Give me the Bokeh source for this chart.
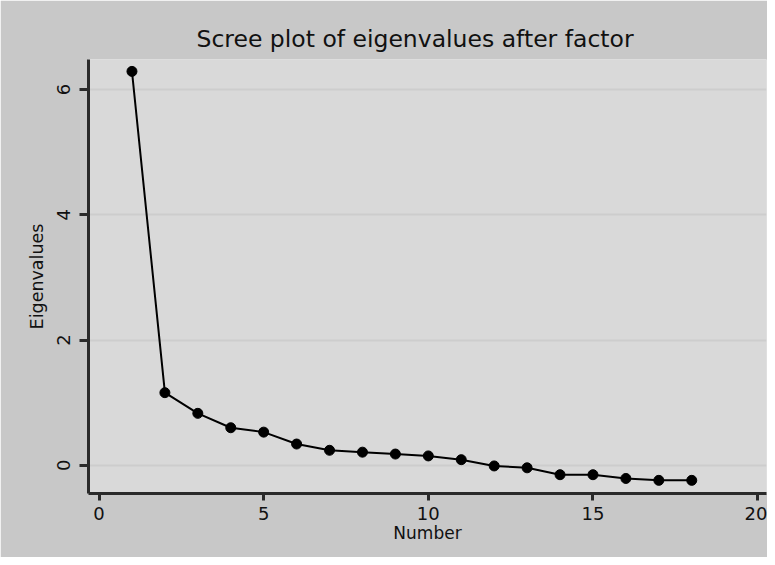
from bokeh.plotting import figure
from bokeh.models import FixedTicker, Range1d
from bokeh.embed import file_html
from bokeh.resources import INLINE

# Data
factor_number = list(range(1, 19))
eigenvalues = [6.29, 1.16, 0.83, 0.60, 0.53, 0.34, 0.24, 0.21, 0.18,
               0.15, 0.09, -0.01, -0.04, -0.15, -0.15, -0.21, -0.24, -0.24]
x_ticks = [0, 5, 10, 15, 20]
y_ticks = [0, 2, 4, 6]

FONT = "DejaVu Sans"

p = figure(width=767, height=557, output_backend="svg", toolbar_location=None,
           x_range=Range1d(-0.32, 20.27), y_range=Range1d(-0.45, 6.48),
           min_border_left=88, min_border_right=1, min_border_top=59,
           min_border_bottom=64,
           title="Scree plot of eigenvalues after factor")

p.border_fill_color = "#c8c8c8"
p.background_fill_color = "#d9d9d9"
p.outline_line_color = None

p.title.text_font = FONT
p.title.text_font_size = "23.5px"
p.title.text_font_style = "normal"
p.title.text_color = "#111111"
p.title.align = "left"
p.title.offset = 108
p.title.standoff = 14

p.line(factor_number, eigenvalues, line_color="black", line_width=2)
p.scatter(factor_number, eigenvalues, size=10, fill_color="black", line_color="black")

p.xgrid.grid_line_color = None
p.ygrid.grid_line_color = "#cdcdcd"
p.ygrid.grid_line_width = 2
p.ygrid.ticker = FixedTicker(ticks=y_ticks)

p.xaxis.ticker = FixedTicker(ticks=x_ticks)
p.yaxis.ticker = FixedTicker(ticks=y_ticks)

for ax in (p.xaxis[0], p.yaxis[0]):
    ax.axis_line_color = "#2a2a2a"
    ax.axis_line_width = 3
    ax.major_tick_line_color = "#2a2a2a"
    ax.major_tick_line_width = 3
    ax.major_tick_in = 0
    ax.minor_tick_line_color = None
    ax.major_label_text_font = FONT
    ax.major_label_text_font_size = "18px"
    ax.major_label_text_color = "#111111"
    ax.axis_label_text_font = FONT
    ax.axis_label_text_font_style = "normal"
    ax.axis_label_text_color = "#111111"

p.xaxis.axis_label = "Number"
p.xaxis.axis_label_text_font_size = "17px"
p.xaxis.major_tick_out = 7
p.xaxis.major_label_standoff = 6
p.xaxis.axis_label_standoff = 0

p.yaxis.axis_label = "Eigenvalues"
p.yaxis.axis_label_text_font_size = "17.5px"
p.yaxis.major_tick_out = 9
p.yaxis.major_label_orientation = "vertical"
p.yaxis.major_label_standoff = 9
p.yaxis.axis_label_standoff = 8

open("out.html", "w").write(file_html(p, INLINE))
